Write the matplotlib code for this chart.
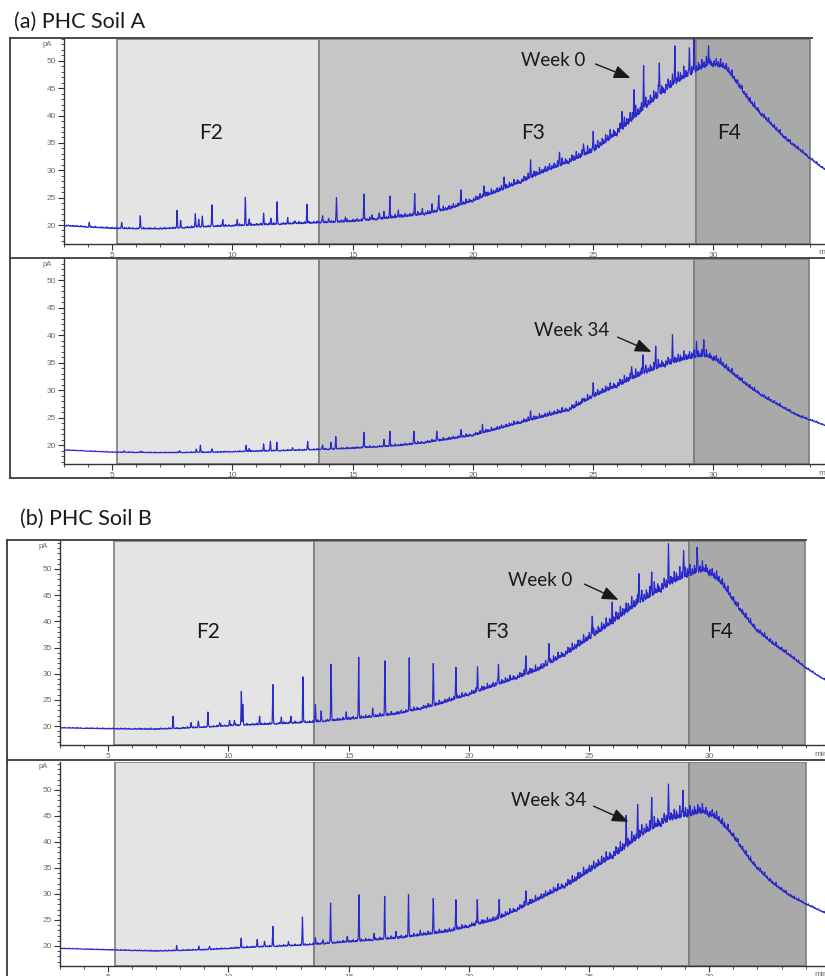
import numpy as np
import matplotlib
matplotlib.use('Agg')
import matplotlib.pyplot as plt
from matplotlib.lines import Line2D
from matplotlib.patches import FancyArrowPatch
from matplotlib.ticker import MultipleLocator

W, H = 825, 976

# ------------------------------------------------------------------ data
# retention time (min) / signal (pA)
# Soil A, week 0
a0_base_t = [3, 5, 7, 9, 11, 13, 15, 16, 17, 18, 19, 20, 21, 22, 23, 24, 25, 26, 27, 28,
             29, 29.5, 29.9, 30.5, 31, 31.5, 32, 32.5, 33, 33.5, 34, 34.5, 35]
a0_base_y = [19.8, 19.3, 19.2, 19.6, 19.9, 20.2, 20.5, 20.9, 21.3, 21.8, 22.7, 24.2, 25.8, 27.6,
             29.5, 31.2, 33.1, 36.3, 40.2, 44.2, 47.0, 48.2, 49.0, 48.4, 45.5, 42.3, 39.9, 37.7,
             35.5, 33.8, 32.1, 30.4, 29.2]
a0_rough_t = [3, 13, 17, 20, 23, 25, 27, 29, 30, 31, 33, 34.1, 35]
a0_rough_y = [0.3, 0.5, 0.8, 1.1, 1.5, 1.9, 2.7, 2.7, 2.1, 1.4, 0.9, 0.6, 0.25]
a0_peak_t = [4.05, 5.4, 6.17, 7.7, 7.85, 8.46, 8.6, 8.75, 9.15, 9.6, 10.2, 10.54, 10.7, 11.3,
             11.6, 11.86, 12.3, 12.6, 13.1, 13.75, 14.0, 14.33, 14.7, 15.47, 15.8, 16.1, 16.3,
             16.55, 16.9, 17.58, 17.9, 18.3, 18.58, 19.5, 20.46, 21.3, 22.4, 23.6, 24.6, 25.0,
             26.2, 26.7, 27.1, 27.75, 28.4, 29.0, 29.2, 29.8]
a0_peak_y = [20.4, 20.4, 21.6, 22.4, 20.6, 22.0, 21.0, 21.5, 23.5, 20.8, 20.8, 24.7, 21.0, 22.0,
             21.0, 24.0, 20.9, 20.7, 23.5, 21.5, 21.2, 24.9, 21.3, 25.5, 21.6, 22.0, 21.8,
             24.8, 22.5, 25.5, 22.6, 23.0, 25.2, 26.1, 27.0, 28.2, 31.0, 32.5, 34.6, 35.9,
             39.6, 44.1, 47.4, 48.7, 51.0, 50.6, 52.2, 52.0]

# Soil A, week 34
a34_base_t = [3, 5, 7, 9, 11, 13, 14, 15, 16, 17, 18, 19, 20, 21, 22, 23, 24, 25, 26, 27, 28,
              29, 29.6, 30.1, 30.8, 31.5, 32.2, 33, 33.5, 34, 34.5, 35]
a34_base_y = [19.05, 18.65, 18.55, 18.6, 18.8, 19.0, 19.15, 19.3, 19.55, 19.8, 20.3, 20.9,
              21.6, 22.7, 23.9, 25.0, 26.1, 28.5, 30.4, 32.4, 34.2, 35.4, 35.9, 35.2, 32.7,
              30.3, 28.3, 26.4, 25.2, 24.5, 23.7, 22.9]
a34_rough_t = [3, 13, 17, 20, 23, 25, 27, 29, 30, 31, 33, 34.1, 35]
a34_rough_y = [0.15, 0.3, 0.5, 0.7, 1.0, 1.3, 2.0, 2.0, 1.6, 1.0, 0.6, 0.4, 0.15]
a34_peak_t = [5.5, 6.2, 7.8, 8.5, 8.67, 9.15, 10.57, 10.7, 11.3, 11.58, 11.85, 12.5, 13.13,
              13.75, 14.1, 14.3, 15.47, 16.3, 16.55, 17.55, 18.5, 19.5, 20.4, 22.4, 24.6,
              25.0, 26.6, 27.07, 27.6, 28.3, 29.3, 29.6]
a34_peak_y = [18.9, 18.8, 18.9, 19.2, 19.9, 19.2, 19.9, 19.3, 20.1, 20.6, 20.3, 19.4, 20.6,
              19.9, 20.4, 21.2, 22.2, 20.6, 22.2, 22.4, 22.3, 22.6, 23.3, 25.6, 28.2,
              30.5, 34.0, 36.2, 37.0, 38.2, 38.0, 38.3]

# Soil B, week 0
b0_base_t = [3, 5, 7, 9, 10, 12, 13.5, 15, 16, 17, 18, 18.8, 20.15, 21.5, 22.9, 24.3, 25.7,
             27.07, 28.45, 29.28, 29.83, 30.5, 31.2, 31.9, 32.6, 33.3, 34.0, 34.67, 35]
b0_base_y = [19.6, 19.4, 19.3, 19.65, 19.95, 20.3, 20.6, 21.15, 21.6, 22.1, 23.1, 24.0,
             26.0, 28.1, 30.4, 34.1, 38.4, 42.9, 46.8, 48.5, 49.3, 46.9, 42.2, 38.3, 35.6,
             33.4, 31.0, 29.05, 28.4]
b0_rough_t = [3, 13, 17, 20, 23, 25, 27, 29, 30, 31, 33, 34.1, 35]
b0_rough_y = [0.2, 0.5, 0.8, 1.1, 1.5, 2.0, 3.0, 3.0, 2.4, 1.5, 0.9, 0.5, 0.2]
b0_peak_t = [7.7, 8.45, 8.75, 9.15, 9.64, 10.05, 10.25, 10.54, 10.6, 11.3, 11.85, 12.2, 12.6,
             13.1, 13.62, 13.86, 14.27, 14.9, 15.42, 16.0, 16.51, 17.52, 18.52, 19.46, 20.36,
             21.23, 22.37, 23.33, 25.13, 25.96, 27.07, 27.6, 28.3, 28.93, 29.49]
b0_peak_y = [21.6, 20.6, 20.8, 22.5, 20.6, 21.0, 21.0, 26.3, 24.1, 21.7, 27.6, 21.5, 21.8,
             29.1, 23.9, 22.6, 31.7, 22.5, 32.9, 23.4, 32.3, 32.3, 31.7, 31.0, 31.0,
             31.5, 33.2, 35.2, 40.6, 43.1, 48.8, 47.9, 52.0, 53.0, 53.8]

# Soil B, week 34
b34_base_t = [3, 5, 7.05, 9.07, 11.1, 13.12, 15.15, 17.17, 19.19, 21.2, 23.24, 24.25, 25.27,
              26.28, 27.3, 28.3, 29.1, 29.7, 30.3, 30.93, 31.74, 32.55, 33.36, 34.17, 34.74, 35]
b34_base_y = [19.5, 19.2, 18.95, 19.2, 19.7, 20.05, 20.7, 21.4, 22.6, 24.9, 29.4, 31.7, 34.7,
              37.6, 41.2, 43.7, 44.5, 45.3, 44.2, 41.1, 35.9, 32.1, 29.4, 27.6, 26.4, 26.0]
b34_rough_t = [3, 13, 17, 20, 23, 25, 27, 29, 30, 31, 33, 34.1, 35]
b34_rough_y = [0.15, 0.4, 0.7, 1.0, 1.4, 2.0, 2.8, 2.8, 2.2, 1.4, 0.8, 0.5, 0.2]
b34_peak_t = [7.85, 8.77, 9.22, 10.53, 11.2, 11.5, 11.85, 12.5, 13.08, 13.62, 13.93, 14.25,
              14.94, 15.43, 16.06, 16.5, 16.97, 17.49, 17.98, 18.52, 19.46, 20.35, 21.26,
              22.37, 26.54, 27.02, 27.6, 28.3, 28.9]
b34_peak_y = [19.9, 19.7, 19.9, 21.3, 21.0, 20.8, 23.5, 20.7, 25.5, 21.4, 21.1, 28.2,
              21.75, 29.6, 22.3, 29.3, 22.5, 29.8, 23.0, 28.9, 28.7, 28.5, 28.8,
              30.4, 42.9, 45.4, 47.2, 48.5, 49.1]

# unresolved isomer pattern inside each 2-min window (offset min, relative height)
tex_off = [0.03, 0.07, 0.12, 0.16, 0.21, 0.26, 0.30, 0.35, 0.40, 0.44, 0.49, 0.54, 0.58, 0.63,
           0.68, 0.72, 0.77, 0.82, 0.86, 0.91, 0.96, 1.01, 1.05, 1.10, 1.15, 1.19, 1.24, 1.29,
           1.33, 1.38, 1.43, 1.47, 1.52, 1.57, 1.61, 1.66, 1.71, 1.76, 1.80, 1.85, 1.90, 1.95]
tex_rel = [0.55, 0.25, 0.80, 0.35, 0.60, 0.20, 0.95, 0.40, 0.65, 0.30, 0.50, 0.85, 0.25, 0.70,
           0.45, 0.35, 1.00, 0.30, 0.60, 0.40, 0.55, 0.80, 0.20, 0.65, 0.45, 0.90, 0.30, 0.55,
           0.35, 0.75, 0.50, 0.25, 0.85, 0.40, 0.60, 0.30, 0.95, 0.45, 0.35, 0.70, 0.50, 0.30]

# fraction boundaries (min) for each panel
frac_names = ['F2', 'F3', 'F4']
bounds_a0 = [5.2, 13.6, 29.27, 34.03]
bounds_a34 = [5.21, 13.6, 29.2, 33.96]
bounds_b0 = [5.24, 13.58, 29.17, 33.98]
bounds_b34 = [5.27, 13.58, 29.17, 34.0]

week_labels = ['Week 0', 'Week 34', 'Week 0', 'Week 34']
titles = ['(a) PHC Soil A', '(b) PHC Soil B']
xticks = [5, 10, 15, 20, 25, 30]
yticks = [20, 25, 30, 35, 40, 45, 50]

# ------------------------------------------------------------------ helpers
def fx(px):
    return px / W


def fy(py):
    return 1 - py / H


t = np.arange(3.0, 35.2, 0.003)


def smooth_curve(ct, cy, win):
    y = np.interp(t, ct, cy)
    n = max(1, int(win / (t[1] - t[0])))
    k = np.ones(n) / n
    ypad = np.pad(y, (n, n), mode='edge')
    return np.convolve(ypad, k, mode='same')[n:-n]


def build_trace(base_t, base_y, rough_t, rough_y, pk_t, pk_y):
    base = smooth_curve(base_t, base_y, 0.3)
    y = base.copy()
    for k0 in np.arange(2.0, 36.0, 2.0):
        for off, rel in zip(tex_off, tex_rel):
            c = k0 + off
            amp = rel * np.interp(c, rough_t, rough_y)
            y += amp * np.exp(-0.5 * ((t - c) / 0.013) ** 2)
    for c, top in zip(pk_t, pk_y):
        amp = top - np.interp(c, t, base)
        if amp > 0:
            y += amp * np.exp(-0.5 * ((t - c) / 0.013) ** 2)
    return y


traces = [
    build_trace(a0_base_t, a0_base_y, a0_rough_t, a0_rough_y, a0_peak_t, a0_peak_y),
    build_trace(a34_base_t, a34_base_y, a34_rough_t, a34_rough_y, a34_peak_t, a34_peak_y),
    build_trace(b0_base_t, b0_base_y, b0_rough_t, b0_rough_y, b0_peak_t, b0_peak_y),
    build_trace(b34_base_t, b34_base_y, b34_rough_t, b34_rough_y, b34_peak_t, b34_peak_y),
]
bounds = [bounds_a0, bounds_a34, bounds_b0, bounds_b34]

# panel layout in pixels: (x of 3 min, top, bottom, ylim)
panels = [
    dict(x0=64, top=39, bot=244, ylim=(16.53, 54.0)),
    dict(x0=64, top=259, bot=464, ylim=(16.55, 53.82)),
    dict(x0=60, top=541, bot=745, ylim=(16.37, 55.35)),
    dict(x0=60, top=762, bot=966, ylim=(16.15, 55.38)),
]
PXMIN = 24.05
XR = 830

frac_colors = ['#e4e4e4', '#c6c6c6', '#a9a9a9']
line_col = '#2828cc'

fig = plt.figure(figsize=(W / 100, H / 100), dpi=100)
fig.patch.set_facecolor('white')

for i, p in enumerate(panels):
    l = fx(p['x0'])
    b = fy(p['bot'])
    w = (XR - p['x0']) / W
    h = (p['bot'] - p['top']) / H
    ax = fig.add_axes([l, b, w, h])
    ax.set_xlim(3, 3 + (XR - p['x0']) / PXMIN)
    ax.set_ylim(*p['ylim'])
    bd = bounds[i]
    for j in range(3):
        ax.axvspan(bd[j], bd[j + 1], facecolor=frac_colors[j], edgecolor='#7c7c7c',
                   linewidth=1.2, zorder=0)
    ax.plot(t, traces[i], color=line_col, linewidth=0.85, zorder=3)
    for s in ['top', 'right']:
        ax.spines[s].set_visible(False)
    for s in ['left', 'bottom']:
        ax.spines[s].set_color('#333333')
        ax.spines[s].set_linewidth(1.0)
        ax.spines[s].set_zorder(4)
    ax.set_xticks(xticks)
    ax.set_yticks(yticks)
    ax.xaxis.set_minor_locator(MultipleLocator(1))
    ax.yaxis.set_minor_locator(MultipleLocator(1))
    ax.tick_params(axis='both', which='major', direction='out', length=4, width=0.8,
                   color='#333333', labelcolor='#6a6a6a', labelsize=6, pad=1.5)
    ax.tick_params(axis='both', which='minor', direction='out', length=2, width=0.6,
                   color='#333333')
    for lab in ax.get_xticklabels() + ax.get_yticklabels():
        lab.set_fontfamily('Liberation Sans')
    ax.set_facecolor('white')
    # pA and min units
    fig.text(fx(p['x0'] - 17), fy(p['top'] + 5), 'pA', fontsize=5.5, color='#6a6a6a',
             ha='center', va='center', family='Liberation Sans')
    fig.text(fx(p['x0'] + 754), fy(p['bot'] + 9), 'min', fontsize=6, color='#6a6a6a',
             ha='left', va='center', family='Liberation Sans')

# frames
fcol = '#3a3a3a'
frame_lines = [
    # panel a
    ((10, 10), (38, 478)), ((10, 812), (38, 38)), ((10, 825), (258, 258)), ((10, 825), (478, 478)),
    # panel b
    ((7, 7), (540, 976)), ((7, 806), (540, 540)), ((7, 825), (760, 760)),
]
for xs, ys in frame_lines:
    fig.add_artist(Line2D([fx(x) for x in xs], [fy(y) for y in ys], color=fcol,
                          linewidth=1.3, transform=fig.transFigure, zorder=10))

# titles
fig.text(fx(14), fy(22), titles[0], fontsize=15.5, family='Lato', ha='left', va='center',
         color='#1a1a1a')
fig.text(fx(20), fy(519), titles[1], fontsize=15.5, family='Lato', ha='left', va='center',
         color='#1a1a1a')

# fraction labels
frac_pos = [[(211, 133), (533, 133), (729, 133)],
            [(208, 632), (497, 632), (721, 632)]]
for grp in frac_pos:
    for name, (x, y) in zip(frac_names, grp):
        fig.text(fx(x), fy(y), name, fontsize=15, family='Lato', ha='center', va='center',
                 color='#1a1a1a')

# week labels and arrows: text centre, arrow start, arrow tip (pixels)
week_pos = [((553, 60), (593, 63), (633, 79)),
            ((572, 330), (615, 336), (654, 353)),
            ((540, 580), (582, 583), (621, 601)),
            ((549, 801), (591, 805), (631, 823))]
for lab, (tp, sp, ep) in zip(week_labels, week_pos):
    fig.text(fx(tp[0]), fy(tp[1]), lab, fontsize=13.5, family='Lato', ha='center',
             va='center', color='#1a1a1a')
    fig.add_artist(FancyArrowPatch(
        (fx(sp[0]), fy(sp[1])), (fx(ep[0]), fy(ep[1])), transform=fig.transFigure,
        arrowstyle='-|>,head_length=1.0,head_width=0.4', mutation_scale=10,
        color='#1a1a1a', linewidth=1.0, zorder=12))

fig.savefig('out.png', dpi=100)
